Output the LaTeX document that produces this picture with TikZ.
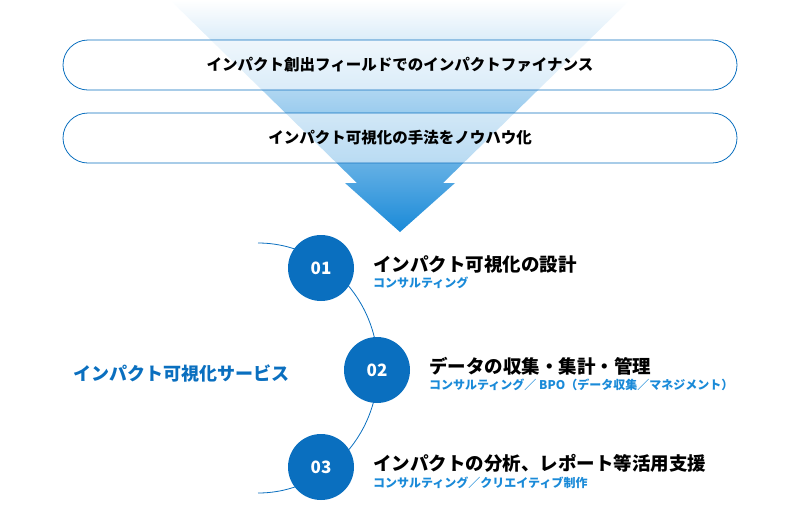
\documentclass[tikz,border=0pt]{standalone}
\usepackage{fontspec}
\setmainfont{Noto Sans CJK JP}
\definecolor{mainblue}{HTML}{0A6FBF}
\definecolor{lightblue}{HTML}{1A8AD8}
\tikzset{
  pill/.style={draw=mainblue,thick,rounded corners=25pt,minimum width=674pt,minimum height=50pt,fill=white,fill opacity=0.55,text opacity=1,font=\fontsize{15.5}{18}\selectfont\bfseries},
  stepcircle/.style={circle,fill=mainblue,minimum size=66pt,text=white,font=\fontsize{17}{19}\selectfont\bfseries},
  head/.style={anchor=south west,inner sep=0pt,font=\fontsize{18.5}{21}\selectfont\bfseries},
  sub/.style={anchor=north west,inner sep=0pt,text=lightblue,font=\fontsize{12}{14}\selectfont\bfseries}
}
\begin{document}
\begin{tikzpicture}[x=1pt,y=-1pt]
  \useasboundingbox (0,0) rectangle (800,515);
  % funnel and arrow
  \shade[top color=white,bottom color=lightblue,middle color=lightblue!45]
    (170,0) -- (630,0) -- (443,183) -- (455,183) -- (400,232) -- (345,183) -- (357,183) -- cycle;
  \node[pill] (box1) at (400,65) {インパクト創出フィールドでのインパクトファイナンス};
  \node[pill] (box2) at (400,138) {インパクト可視化の手法をノウハウ化};
  % arc
  \draw[mainblue,thick] (258,243) arc[start angle=90,end angle=-90,x radius=120,y radius=-125];
  \node[stepcircle] (s1) at (321,268) {01};
  \node[stepcircle] (s2) at (377,370) {02};
  \node[stepcircle] (s3) at (321,467) {03};
  \node[text=mainblue,font=\fontsize{18}{20}\selectfont\bfseries] (svc) at (181,373) {インパクト可視化サービス};
  \node[head] (h1) at (373,273) {インパクト可視化の設計};
  \node[sub] (t1) at (373,277) {コンサルティング};
  \node[head] (h2) at (429,375) {データの収集・集計・管理};
  \node[sub] (t2) at (429,379) {コンサルティング／ BPO（データ収集／マネジメント）};
  \node[head] (h3) at (373,473) {インパクトの分析、レポート等活用支援};
  \node[sub] (t3) at (373,477) {コンサルティング／クリエイティブ制作};
\end{tikzpicture}
\end{document}
